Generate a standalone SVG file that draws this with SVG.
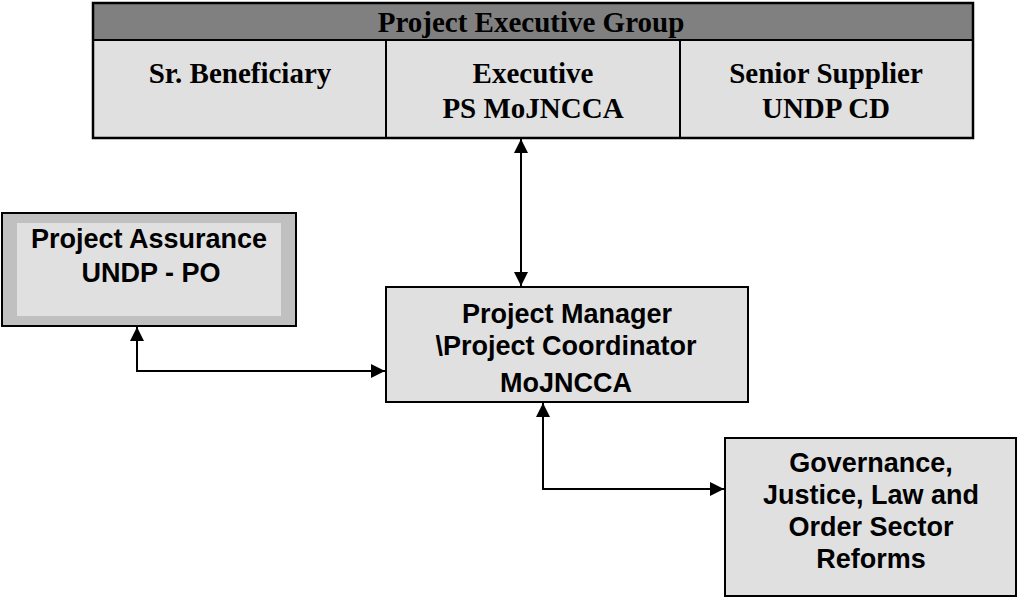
<svg xmlns="http://www.w3.org/2000/svg" width="1020" height="598" viewBox="0 0 1020 598">
  <style>
    .serif { font-family: "Liberation Serif", "Times New Roman", serif; font-weight: bold; font-size: 29px; fill: #000; text-anchor: middle; }
    .sans { font-family: "Liberation Sans", Arial, sans-serif; font-weight: bold; font-size: 27px; fill: #000; text-anchor: middle; }
    .box { fill: #e0e0e0; stroke: #000; stroke-width: 2; }
    .conn { fill: none; stroke: #000; stroke-width: 2; }
  </style>
  <defs>
    <marker id="arrow" viewBox="0 0 14 14" refX="14" refY="7" markerWidth="14" markerHeight="14" markerUnits="userSpaceOnUse" orient="auto-start-reverse">
      <path d="M0,0 L14,7 L0,14 z" fill="#000"/>
    </marker>
  </defs>
  <rect width="1020" height="598" fill="#fff"/>

  <g id="project-executive-group">
    <rect x="93" y="3" width="880" height="135" fill="#e0e0e0"/>
    <rect x="93" y="3" width="880" height="37" fill="#808080"/>
    <line x1="93" y1="40" x2="973" y2="40" stroke="#000" stroke-width="2"/>
    <line x1="386" y1="40" x2="386" y2="138" stroke="#000" stroke-width="2"/>
    <line x1="680" y1="40" x2="680" y2="138" stroke="#000" stroke-width="2"/>
    <rect x="93" y="3" width="880" height="135" fill="none" stroke="#000" stroke-width="2.5"/>
    <text class="serif" x="531" y="32">Project Executive Group</text>
    <text class="serif" x="240" y="83">Sr. Beneficiary</text>
    <text class="serif" x="533" y="83">Executive</text>
    <text class="serif" x="533" y="118">PS MoJNCCA</text>
    <text class="serif" x="826" y="83">Senior Supplier</text>
    <text class="serif" x="826" y="118">UNDP CD</text>
  </g>

  <g id="project-assurance">
    <rect x="2" y="213" width="294" height="113" fill="#c0c0c0" stroke="#000" stroke-width="2"/>
    <rect x="17" y="223" width="264" height="93" fill="#e0e0e0"/>
    <text class="sans" x="149" y="248">Project Assurance</text>
    <text class="sans" x="151" y="282">UNDP - PO</text>
  </g>

  <g id="project-manager">
    <rect class="box" x="386" y="287" width="362" height="115"/>
    <text class="sans" x="567" y="323">Project Manager</text>
    <text class="sans" x="566" y="355">\Project Coordinator</text>
    <text class="sans" x="566" y="392">MoJNCCA</text>
  </g>

  <g id="governance">
    <rect class="box" x="725" y="438" width="291" height="158"/>
    <text class="sans" x="871" y="472">Governance,</text>
    <text class="sans" x="871" y="504">Justice, Law and</text>
    <text class="sans" x="871" y="536">Order Sector</text>
    <text class="sans" x="871" y="568">Reforms</text>
  </g>

  <g id="connectors">
    <line class="conn" x1="521" y1="139" x2="521" y2="286" marker-start="url(#arrow)" marker-end="url(#arrow)"/>
    <polyline class="conn" points="137,327 137,371 385,371" marker-start="url(#arrow)" marker-end="url(#arrow)"/>
    <polyline class="conn" points="543,403 543,489 724,489" marker-start="url(#arrow)" marker-end="url(#arrow)"/>
  </g>
</svg>
